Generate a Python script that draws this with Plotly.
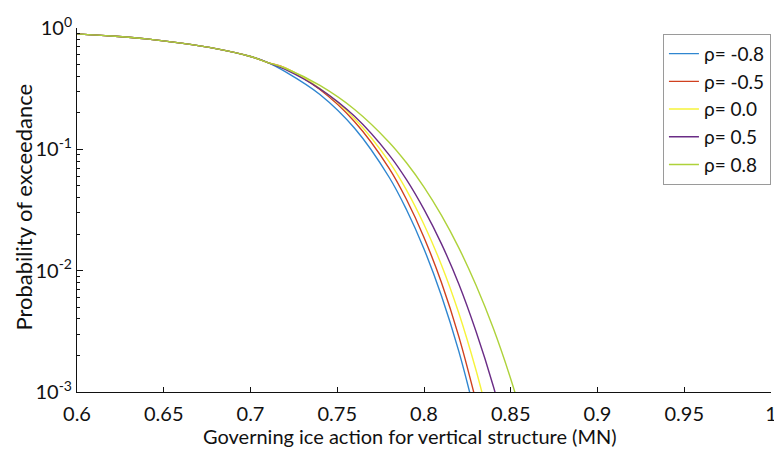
import plotly.graph_objects as go

# Shared part of the curves (all rho values overlap here)
x_common = [0.60, 0.62, 0.64, 0.66, 0.68, 0.70, 0.71]
p_common = [0.895, 0.859, 0.813, 0.750, 0.676, 0.582, 0.519]

# Diverging tails
x_m08 = [0.72, 0.74, 0.76, 0.78, 0.79, 0.80, 0.81, 0.82, 0.83]
p_m08 = [0.437, 0.283, 0.149, 0.0586, 0.0316, 0.0151, 0.00624, 0.00218, 0.000614]

x_m05 = [0.72, 0.74, 0.76, 0.78, 0.79, 0.80, 0.81, 0.82, 0.83]
p_m05 = [0.468, 0.311, 0.169, 0.0695, 0.0384, 0.0188, 0.00802, 0.00289, 0.000838]

x_00 = [0.72, 0.74, 0.76, 0.78, 0.79, 0.80, 0.81, 0.82, 0.83, 0.84]
p_00 = [0.468, 0.317, 0.179, 0.0789, 0.0459, 0.0240, 0.0112, 0.00450, 0.00151, 0.000420]

x_05 = [0.72, 0.74, 0.76, 0.78, 0.79, 0.80, 0.81, 0.82, 0.83, 0.84, 0.85]
p_05 = [0.455, 0.315, 0.187, 0.0897, 0.0560, 0.0320, 0.0167, 0.00780, 0.00315, 0.00111, 0.000324]

x_08 = [0.72, 0.74, 0.76, 0.78, 0.79, 0.80, 0.81, 0.82, 0.83, 0.84, 0.85, 0.86]
p_08 = [0.466, 0.336, 0.213, 0.114, 0.0771, 0.0489, 0.0287, 0.0155, 0.00757, 0.00333, 0.00128, 0.000427]

labels = ["ρ= -0.8", "ρ= -0.5", "ρ= 0.0", "ρ= 0.5", "ρ= 0.8"]
colors = ["#2f86d0", "#d0401f", "#f6f33a", "#6a2c86", "#aed23a"]

x_ticks = [0.6, 0.65, 0.7, 0.75, 0.8, 0.85, 0.9, 0.95, 1.0]
x_ticktext = ["0.6", "0.65", "0.7", "0.75", "0.8", "0.85", "0.9", "0.95", "1"]
y_ticks = [1e-3, 1e-2, 1e-1, 1e0]
y_ticktext = ["10<sup>-3</sup>", "10<sup>-2</sup>", "10<sup>-1</sup>", "10<sup>0</sup>"]

x_title = "Governing ice action for vertical structure (MN)"
y_title = "Probability of exceedance"

series = [(x_m08, p_m08), (x_m05, p_m05), (x_00, p_00), (x_05, p_05), (x_08, p_08)]

fig = go.Figure()
for (xs, ps), lab, col in zip(series, labels, colors):
    fig.add_trace(go.Scatter(
        x=x_common + xs, y=p_common + ps, mode="lines", name=lab,
        line=dict(color=col, width=1.4, shape="spline", smoothing=1.0),
    ))

font_family = "Lato, 'Open Sans', sans-serif"
ink = "#111"
minor_vals = [m * 10.0 ** e for e in (-3, -2, -1) for m in range(2, 10)]

# The page body adds an 8px margin, so the figure is sized to fit the window.
fig.update_layout(
    width=774, height=443,
    margin=dict(l=69, r=5, t=12, b=59),
    paper_bgcolor="white", plot_bgcolor="white",
    font=dict(family=font_family, size=20, color=ink),
    showlegend=True,
    legend=dict(
        x=0.8443, y=0.984, xanchor="left", yanchor="top",
        bordercolor="#9a9a9a", borderwidth=1, bgcolor="white",
        font=dict(size=19, family=font_family, color=ink),
        tracegroupgap=0,
    ),
    xaxis=dict(
        range=[0.6, 1.0], tickmode="array", tickvals=x_ticks, ticktext=x_ticktext,
        ticks="inside", ticklen=5, tickcolor=ink, showline=True, linecolor=ink,
        linewidth=1, showgrid=False, zeroline=False, mirror=False,
        ticklabeloverflow="allow", ticklabelstandoff=4,
        tickfont=dict(size=20),
    ),
    yaxis=dict(
        type="log", range=[-3, 0], tickmode="array", tickvals=y_ticks, ticktext=y_ticktext,
        ticks="inside", ticklen=6, tickcolor=ink, showline=True, linecolor=ink,
        linewidth=1, showgrid=False, zeroline=False, mirror=False,
        ticklabeloverflow="allow",
        minor=dict(tickmode="array", tickvals=minor_vals, ticks="inside", ticklen=3,
                   tickcolor=ink, showgrid=False),
        tickfont=dict(size=20),
    ),
    annotations=[
        dict(text=x_title, xref="paper", yref="paper", x=0.48, y=-0.121,
             xanchor="center", yanchor="middle", showarrow=False,
             font=dict(size=20, family=font_family, color=ink)),
        dict(text=y_title, xref="paper", yref="paper", x=-0.0771, y=0.508,
             xanchor="center", yanchor="middle", textangle=-90, showarrow=False,
             font=dict(size=22, family=font_family, color=ink)),
    ],
)

fig.write_html("out.html")
